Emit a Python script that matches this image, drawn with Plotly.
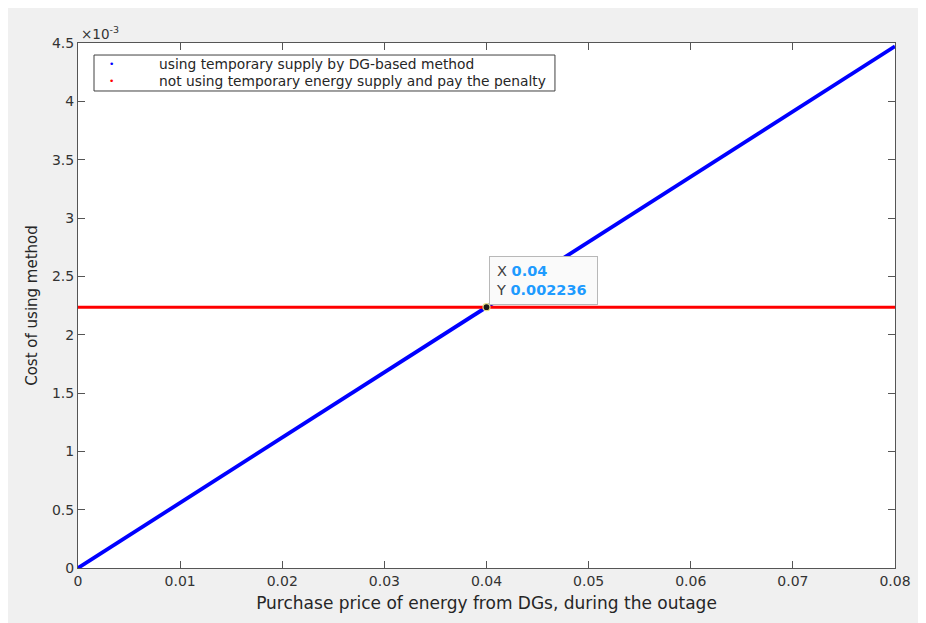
import plotly.graph_objects as go

# Data
x_dg = [0.0, 0.08]
y_dg = [0.0, 0.004472]
x_pen = [0.0, 0.08]
y_pen = [0.002236, 0.002236]
tip_x = 0.04
tip_y = 0.002236
names = ["using temporary supply by DG-based method",
         "not using temporary energy supply and pay the penalty"]
colors = ["#0000ff", "#ff0000"]
xticks = [0, 0.01, 0.02, 0.03, 0.04, 0.05, 0.06, 0.07, 0.08]
xticklabels = ["0", "0.01", "0.02", "0.03", "0.04", "0.05", "0.06", "0.07", "0.08"]
yticks = [0, 0.0005, 0.001, 0.0015, 0.002, 0.0025, 0.003, 0.0035, 0.004, 0.0045]
yticklabels = ["0", "0.5", "1", "1.5", "2", "2.5", "3", "3.5", "4", "4.5"]

FONT = "DejaVu Sans, Liberation Sans, sans-serif"
AX = "#555555"
TXT = "#333333"

fig = go.Figure()
fig.add_trace(go.Scatter(x=x_dg, y=y_dg, mode="lines", line=dict(color=colors[0], width=3.8),
                         name=names[0], showlegend=False, hoverinfo="skip"))
fig.add_trace(go.Scatter(x=x_pen, y=y_pen, mode="lines", line=dict(color=colors[1], width=3),
                         name=names[1], showlegend=False, hoverinfo="skip"))
# data tip point
fig.add_trace(go.Scatter(x=[tip_x], y=[tip_y], mode="markers", showlegend=False, hoverinfo="skip",
                         marker=dict(color="#1a1a1a", size=7, line=dict(color="#e8e08a", width=1.2))))

# data tip box
fig.add_annotation(x=tip_x, y=tip_y, xref="x", yref="y", showarrow=False,
                   xanchor="left", yanchor="bottom", xshift=2, yshift=2,
                   align="left",
                   text=("X <b><span style='color:#1e9bff'>%s</span></b>&nbsp;<br>"
                         "Y <b><span style='color:#1e9bff'>%s</span></b>&nbsp;" % ("0.04", "0.002236")),
                   font=dict(family=FONT, size=14.5, color="#404040"),
                   bgcolor="#fafafa", bordercolor="#b8b8b8", borderwidth=1, borderpad=6)

# exponent label
fig.add_annotation(x=0, y=1, xref="paper", yref="paper", showarrow=False,
                   xanchor="left", yanchor="bottom", xshift=1, yshift=-1,
                   text="\u00d710<sup>-3</sup>", font=dict(family=FONT, size=13.5, color=TXT))

# legend box (manual, MATLAB style)
fig.add_shape(type="rect", xref="paper", yref="paper", x0=0.0196, x1=0.5838, y0=0.9086, y1=0.9771,
              line=dict(color="#404040", width=1), fillcolor="#ffffff", layer="above")
leg_y = [0.9600, 0.9276]
for name, col, yy in zip(names, colors, leg_y):
    fig.add_annotation(x=0.0404, y=yy, xref="paper", yref="paper", showarrow=False,
                       xanchor="center", yanchor="middle", text="\u2022",
                       font=dict(family=FONT, size=9, color=col))
    fig.add_annotation(x=0.0967, y=yy, xref="paper", yref="paper", showarrow=False,
                       xanchor="left", yanchor="middle", text=name,
                       font=dict(family=FONT, size=13.8, color="#262626"))

fig.update_layout(
    width=926, height=623,
    paper_bgcolor="#f0f0f0", plot_bgcolor="#ffffff",
    margin=dict(l=70, r=39, t=35, b=63),
    font=dict(family=FONT, size=14, color=TXT),
    showlegend=False,
    xaxis=dict(range=[0, 0.08], tickvals=xticks, ticktext=xticklabels,
               showgrid=False, zeroline=False, showline=True, linecolor=AX, linewidth=1,
               mirror="ticks", ticks="inside", ticklen=7, tickcolor=AX,
               tickfont=dict(family=FONT, size=14, color=TXT),
               title=dict(text="Purchase price of energy from DGs, during the outage",
                          font=dict(family=FONT, size=17, color="#262626"), standoff=9)),
    yaxis=dict(range=[0, 0.0045], tickvals=yticks, ticktext=yticklabels,
               showgrid=False, zeroline=False, showline=True, linecolor=AX, linewidth=1,
               mirror="ticks", ticks="inside", ticklen=7, tickcolor=AX,
               tickfont=dict(family=FONT, size=14, color=TXT),
               title=dict(text="Cost of using method", font=dict(family=FONT, size=15, color="#262626"),
                          standoff=10)),
)

fig.write_html("out.html")
